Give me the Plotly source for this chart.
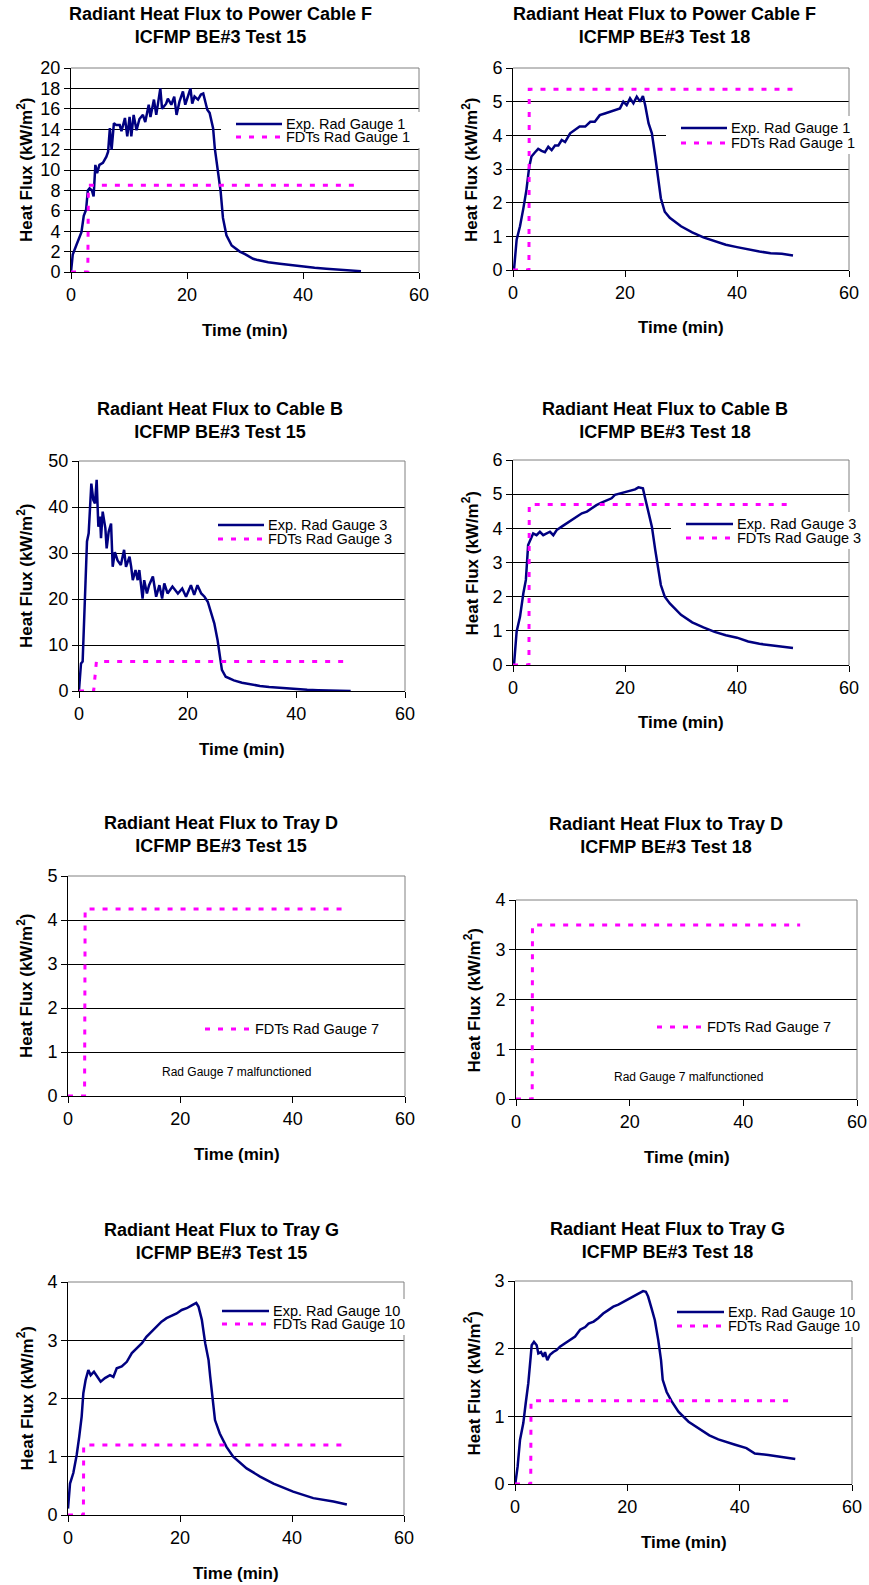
import plotly.graph_objects as go

W, H = 869, 1585
FONT = "Arial, Liberation Sans, sans-serif"
NAVY = "#000080"
MAGENTA = "#ff00ff"
EXP_LINE = dict(color=NAVY, width=2.5)
FDT_LINE = dict(color=MAGENTA, width=3, dash="5px,8px")

# ---------------- data: time (min) / heat flux (kW/m2) ----------------
# Power Cable F, Test 15 (Rad Gauge 1)
cableF_t15_time = [0, 0.3, 0.9, 1.8, 2.2, 2.6, 2.9, 3.2, 3.6, 3.9, 4.2, 4.5, 4.9, 5.5, 6.1,
                   6.4, 6.7, 7.0, 7.4, 7.8, 8.4, 8.7, 9.3, 9.7, 10.1, 10.4, 10.8, 11.3, 11.8,
                   12.4, 12.8, 13.4, 13.7, 14.3, 14.7, 15.4, 15.7, 16.4, 16.7, 17.3, 17.8,
                   18.2, 18.7, 19.3, 19.7, 20.2, 20.6, 20.9, 21.3, 21.9, 22.4, 22.8, 23.1,
                   23.5, 23.9, 24.5, 24.8, 25.3, 25.8, 26.2, 26.8, 27.7, 29.1, 30, 31.4, 32,
                   34, 36, 38, 40, 42, 44, 46, 48, 50]
cableF_t15_flux = [0, 1.7, 2.6, 3.9, 5.5, 6.1, 8.0, 8.2, 8.0, 7.4, 10.5, 9.7, 10.5, 10.7, 11.3,
                   11.8, 14.1, 12.0, 14.6, 14.4, 14.4, 13.8, 15.1, 13.3, 15.2, 13.3, 15.4, 13.9,
                   15.0, 15.4, 14.7, 16.4, 15.2, 16.9, 15.4, 18.0, 16.0, 16.5, 17.0, 16.4, 17.2,
                   15.4, 16.7, 17.7, 16.4, 17.4, 18.0, 16.5, 17.2, 16.9, 17.4, 17.5, 16.7,
                   15.9, 15.6, 14.1, 12.1, 9.8, 7.9, 5.3, 3.6, 2.6, 2.0, 1.75, 1.3, 1.2,
                   0.95, 0.8, 0.65, 0.52, 0.42, 0.33, 0.25, 0.17, 0.08]
cableF_t15_fdt_time = [0, 2.9, 3.0, 50]
cableF_t15_fdt_flux = [0, 0, 8.5, 8.5]

# Power Cable F, Test 18 (Rad Gauge 1)
cableF_t18_time = [0, 0.2, 0.65, 1.25, 1.85, 2.4, 2.9, 3.3, 3.9, 4.5, 5.1, 5.7, 6.3, 6.9, 7.5,
                   8.1, 8.7, 9.3, 10.2, 11.1, 11.9, 12.9, 13.8, 14.6, 15.5, 16.4, 17.3, 18.2,
                   19.1, 19.7, 20.3, 20.9, 21.5, 22.1, 22.7, 23.2, 23.6, 24.2, 24.8, 25.4,
                   26.0, 26.4, 27.1, 28, 30, 32, 34, 36, 38, 40, 42, 44, 46, 48, 50]
cableF_t18_flux = [0, 0.05, 0.9, 1.3, 1.83, 2.38, 3.07, 3.37, 3.49, 3.6, 3.54, 3.5, 3.66, 3.56,
                   3.7, 3.7, 3.86, 3.8, 4.06, 4.16, 4.26, 4.26, 4.4, 4.4, 4.6, 4.65, 4.7, 4.75,
                   4.8, 5.0, 4.9, 5.1, 4.95, 5.15, 5.0, 5.17, 4.9, 4.36, 4.06, 3.37, 2.67,
                   2.13, 1.73, 1.55, 1.3, 1.12, 0.97, 0.85, 0.75, 0.68, 0.61, 0.55, 0.5,
                   0.48, 0.43]
cableF_t18_fdt_time = [0, 2.85, 2.9, 50]
cableF_t18_fdt_flux = [0, 0, 5.37, 5.37]

# Cable B, Test 15 (Rad Gauge 3)
cableB_t15_time = [0, 0.37, 0.67, 1.17, 1.47, 1.78, 2.27, 2.64, 2.94, 3.25, 3.56, 3.87, 4.05,
                   4.36, 4.85, 5.09, 5.46, 5.9, 6.2, 6.6, 7.1, 7.7, 8.3, 8.65, 9.3, 9.6, 9.9,
                   10.4, 10.8, 11.1, 11.7, 12.0, 12.5, 12.9, 13.6, 14.2, 14.8, 15.3, 15.7,
                   16.3, 17.2, 18.2, 19.0, 19.7, 20.6, 21.2, 21.8, 22.5, 23.1, 23.7, 24.3,
                   24.9, 25.5, 25.9, 26.3, 27.0, 28.5, 30, 31.5, 33.3, 35, 37.6, 40, 42, 44,
                   46, 48, 50]
cableB_t15_flux = [0.2, 6.0, 6.4, 20.5, 32.5, 34.3, 45.1, 41.5, 40.8, 45.9, 35.7, 37.9, 33.2,
                   39.0, 35.4, 31.0, 34.6, 36.4, 27.0, 30.2, 28.4, 27.4, 30.7, 27.0, 29.2,
                   27.0, 24.1, 26.3, 24.1, 26.3, 20.1, 24.1, 21.2, 23.0, 24.9, 20.5, 23.0,
                   20.1, 23.4, 21.2, 22.7, 21.2, 22.3, 20.5, 23.0, 20.9, 23.0, 21.2, 20.5,
                   19.4, 17.2, 14.7, 11.1, 7.5, 4.6, 3.1, 2.3, 1.8, 1.45, 1.1, 0.85, 0.58,
                   0.38, 0.27, 0.17, 0.1, 0.05, 0.02]
cableB_t15_fdt_time = [0, 2.7, 3.2, 50]
cableB_t15_fdt_flux = [0, 0, 6.4, 6.4]

# Cable B, Test 18 (Rad Gauge 3)
cableB_t18_time = [0, 0.2, 0.65, 1.25, 1.85, 2.3, 2.7, 3.15, 3.6, 4.2, 4.8, 5.4, 6.0, 6.6, 7.2,
                   7.8, 8.7, 9.6, 10.5, 11.4, 12.3, 13.2, 14.1, 14.9, 15.8, 16.7, 17.6, 18.2,
                   19.1, 20.0, 20.9, 21.8, 22.4, 23.2, 23.6, 24.2, 24.8, 25.4, 26.0, 26.4,
                   27.1, 28, 30, 32, 34, 36, 38, 40, 42, 44, 46, 48, 50]
cableB_t18_flux = [0, 0.05, 0.98, 1.41, 2.1, 2.49, 3.51, 3.71, 3.85, 3.8, 3.9, 3.8, 3.85, 3.9,
                   3.8, 3.95, 4.05, 4.15, 4.24, 4.34, 4.44, 4.49, 4.59, 4.68, 4.75, 4.81, 4.88,
                   4.98, 5.02, 5.07, 5.12, 5.14, 5.2, 5.17, 4.88, 4.49, 4.05, 3.37, 2.78, 2.34,
                   2.0, 1.8, 1.47, 1.25, 1.1, 0.97, 0.87, 0.8, 0.69, 0.62, 0.58, 0.54, 0.5]
cableB_t18_fdt_time = [0, 2.85, 2.9, 50]
cableB_t18_fdt_flux = [0, 0, 4.7, 4.7]

# Tray D (Rad Gauge 7 malfunctioned -> only FDTs)
trayD_t15_fdt_time = [0, 2.95, 3.05, 50]
trayD_t15_fdt_flux = [0, 0, 4.25, 4.25]
trayD_t18_fdt_time = [0, 2.85, 2.9, 50]
trayD_t18_fdt_flux = [0, 0, 3.5, 3.5]

# Tray G, Test 15 (Rad Gauge 10)
trayG_t15_time = [0, 0.36, 0.95, 1.55, 2.0, 2.44, 2.74, 3.15, 3.63, 4.05, 4.64, 5.24, 5.83, 6.6,
                  7.5, 8.1, 8.7, 9.6, 10.5, 11.4, 12.3, 13.2, 14.0, 14.9, 15.8, 16.7, 17.6,
                  18.5, 19.4, 20.3, 21.2, 22.1, 22.9, 23.3, 23.9, 24.5, 25.1, 25.4, 25.9,
                  26.25, 27.1, 28.3, 29.5, 31.9, 34.3, 36.7, 40.2, 43.8, 47.4, 49.8]
trayG_t15_flux = [0.11, 0.54, 0.72, 1.03, 1.34, 1.69, 2.09, 2.32, 2.49, 2.4, 2.46, 2.37, 2.29,
                  2.35, 2.4, 2.37, 2.52, 2.55, 2.63, 2.78, 2.86, 2.95, 3.06, 3.15, 3.23, 3.32,
                  3.38, 3.42, 3.46, 3.52, 3.55, 3.6, 3.64, 3.58, 3.35, 2.95, 2.66, 2.37, 1.97,
                  1.63, 1.4, 1.17, 1.0, 0.8, 0.66, 0.54, 0.4, 0.29, 0.23, 0.18]
trayG_t15_fdt_time = [0, 2.75, 2.8, 50]
trayG_t15_fdt_flux = [0, 0, 1.2, 1.2]

# Tray G, Test 18 (Rad Gauge 10)
trayG_t18_time = [0.05, 0.47, 0.89, 1.48, 1.9, 2.37, 2.79, 2.97, 3.38, 3.86, 4.15, 4.63, 5.04,
                  5.34, 5.75, 6.23, 6.82, 7.42, 8.0, 8.9, 9.8, 10.7, 11.6, 12.5, 13.1, 14.0,
                  14.8, 15.7, 16.6, 17.5, 18.4, 19.3, 20.2, 21.1, 21.95, 22.8, 23.3, 23.7,
                  24.3, 24.9, 25.5, 26.0, 26.3, 27.0, 27.9, 29.1, 30.9, 32.0, 33.2, 34.6,
                  36.2, 37.6, 39.2, 41.2, 42.7, 45.1, 47.5, 49.9]
trayG_t18_flux = [0, 0.26, 0.65, 0.9, 1.19, 1.49, 1.88, 2.05, 2.1, 2.05, 1.93, 1.95, 1.88, 1.95,
                  1.83, 1.91, 1.95, 1.98, 2.03, 2.08, 2.13, 2.18, 2.28, 2.32, 2.37, 2.4, 2.45,
                  2.52, 2.57, 2.62, 2.65, 2.69, 2.74, 2.77, 2.81, 2.85, 2.84, 2.77, 2.6, 2.42,
                  2.13, 1.83, 1.54, 1.36, 1.22, 1.07, 0.92, 0.86, 0.8, 0.72, 0.66, 0.62,
                  0.58, 0.53, 0.45, 0.43, 0.4, 0.37]
trayG_t18_fdt_time = [0, 2.8, 2.85, 50]
trayG_t18_fdt_flux = [0, 0, 1.23, 1.23]

# ---------------- panel setup ----------------
# box = plot area in px (left, top, right, bottom)
# leg = (legend line start x, legend text start x, entry y's)
panels = [
    dict(target="Power Cable F", test=15, gauge=1, ymax=20, dtick=2,
         exp=(cableF_t15_time, cableF_t15_flux), fdt=(cableF_t15_fdt_time, cableF_t15_fdt_flux),
         box=(71, 68, 419, 272), title_xy=(220, 25.5), ytx=25, leg=(236, 284, [124, 137])),
    dict(target="Power Cable F", test=18, gauge=1, ymax=6, dtick=1,
         exp=(cableF_t18_time, cableF_t18_flux), fdt=(cableF_t18_fdt_time, cableF_t18_fdt_flux),
         box=(513, 68, 849, 270), title_xy=(664, 25.5), ytx=470, leg=(681, 729, [128, 143])),
    dict(target="Cable B", test=15, gauge=3, ymax=50, dtick=10,
         exp=(cableB_t15_time, cableB_t15_flux), fdt=(cableB_t15_fdt_time, cableB_t15_fdt_flux),
         box=(79, 461, 405, 691), title_xy=(220, 420), ytx=25, leg=(218, 266, [525, 539])),
    dict(target="Cable B", test=18, gauge=3, ymax=6, dtick=1,
         exp=(cableB_t18_time, cableB_t18_flux), fdt=(cableB_t18_fdt_time, cableB_t18_fdt_flux),
         box=(513, 460, 849, 665), title_xy=(664.5, 421), ytx=470, leg=(686, 735, [524, 538])),
    dict(target="Tray D", test=15, gauge=7, ymax=5, dtick=1,
         exp=None, fdt=(trayD_t15_fdt_time, trayD_t15_fdt_flux),
         box=(68, 876, 405, 1096), title_xy=(220.5, 834), ytx=25, leg=(205, 253, [1029]),
         note=(30, 0.55)),
    dict(target="Tray D", test=18, gauge=7, ymax=4, dtick=1,
         exp=None, fdt=(trayD_t18_fdt_time, trayD_t18_fdt_flux),
         box=(516, 900, 857, 1099), title_xy=(665.5, 835), ytx=472, leg=(657, 705, [1027]),
         note=(30.3, 0.44)),
    dict(target="Tray G", test=15, gauge=10, ymax=4, dtick=1,
         exp=(trayG_t15_time, trayG_t15_flux), fdt=(trayG_t15_fdt_time, trayG_t15_fdt_flux),
         box=(68, 1282, 404, 1515), title_xy=(221.5, 1241.5), ytx=25, leg=(222, 271, [1311, 1324])),
    dict(target="Tray G", test=18, gauge=10, ymax=3, dtick=1,
         exp=(trayG_t18_time, trayG_t18_flux), fdt=(trayG_t18_fdt_time, trayG_t18_fdt_flux),
         box=(515, 1281, 852, 1484), title_xy=(667, 1240.5), ytx=472, leg=(677, 726, [1312, 1326])),
]

fig = go.Figure()
annotations = []
shapes = []
layout = {}


def px(x, y):
    return x / W, 1 - y / H


for i, p in enumerate(panels, start=1):
    sfx = "" if i == 1 else str(i)
    xa, ya = "x" + sfx, "y" + sfx
    x0, y0, x1, y1 = p["box"]

    entries = []
    if p["exp"] is not None:
        assert len(p["exp"][0]) == len(p["exp"][1])
        fig.add_trace(go.Scatter(
            x=p["exp"][0], y=p["exp"][1], mode="lines", showlegend=False,
            name=f"Exp. Rad Gauge {p['gauge']}", line=EXP_LINE, xaxis=xa, yaxis=ya))
        entries.append((f"Exp. Rad Gauge {p['gauge']}", EXP_LINE))
    fig.add_trace(go.Scatter(
        x=p["fdt"][0], y=p["fdt"][1], mode="lines", showlegend=False,
        name=f"FDTs Rad Gauge {p['gauge']}", line=FDT_LINE, xaxis=xa, yaxis=ya))
    entries.append((f"FDTs Rad Gauge {p['gauge']}", FDT_LINE))

    layout["xaxis" + sfx] = dict(
        domain=[x0 / W, x1 / W], anchor=ya, range=[0, 60], tickvals=[0, 20, 40, 60],
        showgrid=False, zeroline=False, showline=True, linecolor="black", linewidth=1,
        ticks="outside", ticklen=6, tickcolor="black", automargin=False,
        tickfont=dict(size=18, color="black"))
    layout["yaxis" + sfx] = dict(
        domain=[1 - y1 / H, 1 - y0 / H], anchor=xa, range=[0, p["ymax"]], dtick=p["dtick"],
        showgrid=True, gridcolor="black", gridwidth=1, zeroline=False,
        showline=True, linecolor="black", linewidth=1, automargin=False,
        ticks="outside", ticklen=6, tickcolor="black",
        tickfont=dict(size=18, color="black"))

    # grey top/right frame of the plot area
    for sx0, sy0, sx1, sy1 in [(0, 1, 1, 1), (1, 0, 1, 1)]:
        shapes.append(dict(type="line", xref=f"{xa} domain", yref=f"{ya} domain",
                           x0=sx0, y0=sy0, x1=sx1, y1=sy1,
                           line=dict(color="#808080", width=1), layer="above"))

    # Excel-style legend: white box, line samples, labels
    ls, ts, ys = p["leg"]
    bx0, by0 = px(ls - 15, ys[0] - 12)
    bx1, by1 = px(ls + 186, ys[-1] + 11)
    shapes.append(dict(type="rect", xref="paper", yref="paper", x0=bx0, y0=by0, x1=bx1, y1=by1,
                       fillcolor="white", line=dict(width=0), layer="above"))
    for (label, style), ey in zip(entries, ys):
        lx0, ly = px(ls, ey)
        lx1, _ = px(ts - 2, ey)
        shapes.append(dict(type="line", xref="paper", yref="paper",
                           x0=lx0, y0=ly, x1=lx1, y1=ly, line=style, layer="above"))
        tx_, _ = px(ts, ey)
        annotations.append(dict(text=label, xref="paper", yref="paper", x=tx_, y=ly,
                                xanchor="left", yanchor="middle", showarrow=False,
                                font=dict(size=14.5, color="black")))

    tx, ty = px(*p["title_xy"])
    annotations.append(dict(
        text=f"<b>Radiant Heat Flux to {p['target']}</b><br><b>ICFMP BE#3 Test {p['test']}</b>",
        xref="paper", yref="paper", x=tx, y=ty, xanchor="center", yanchor="middle",
        showarrow=False, font=dict(size=18, color="black")))
    annotations.append(dict(
        text="<b>Time (min)</b>", xref="paper", yref="paper",
        x=(x0 + x1) / 2 / W, y=1 - (y1 + 58) / H, xanchor="center", yanchor="middle",
        showarrow=False, font=dict(size=17, color="black")))
    annotations.append(dict(
        text="<b>Heat Flux (kW/m<sup>2</sup>)</b>", xref="paper", yref="paper",
        x=p["ytx"] / W, y=1 - (y0 + y1) / 2 / H, xanchor="center", yanchor="middle",
        textangle=-90, showarrow=False, font=dict(size=17, color="black")))
    if "note" in p:
        annotations.append(dict(
            text="Rad Gauge 7 malfunctioned", xref=xa, yref=ya,
            x=p["note"][0], y=p["note"][1], showarrow=False,
            font=dict(size=12, color="black")))

fig.update_layout(
    width=W, height=H, margin=dict(l=0, r=0, t=0, b=0, autoexpand=False),
    paper_bgcolor="white", plot_bgcolor="white", showlegend=False,
    font=dict(family=FONT, color="black"),
    annotations=annotations, shapes=shapes, **layout)

# the page's default 8px body margin would push the figure off the window
fig.write_html("out.html", config={"displayModeBar": False},
               post_script="document.body.style.margin = '0';")
